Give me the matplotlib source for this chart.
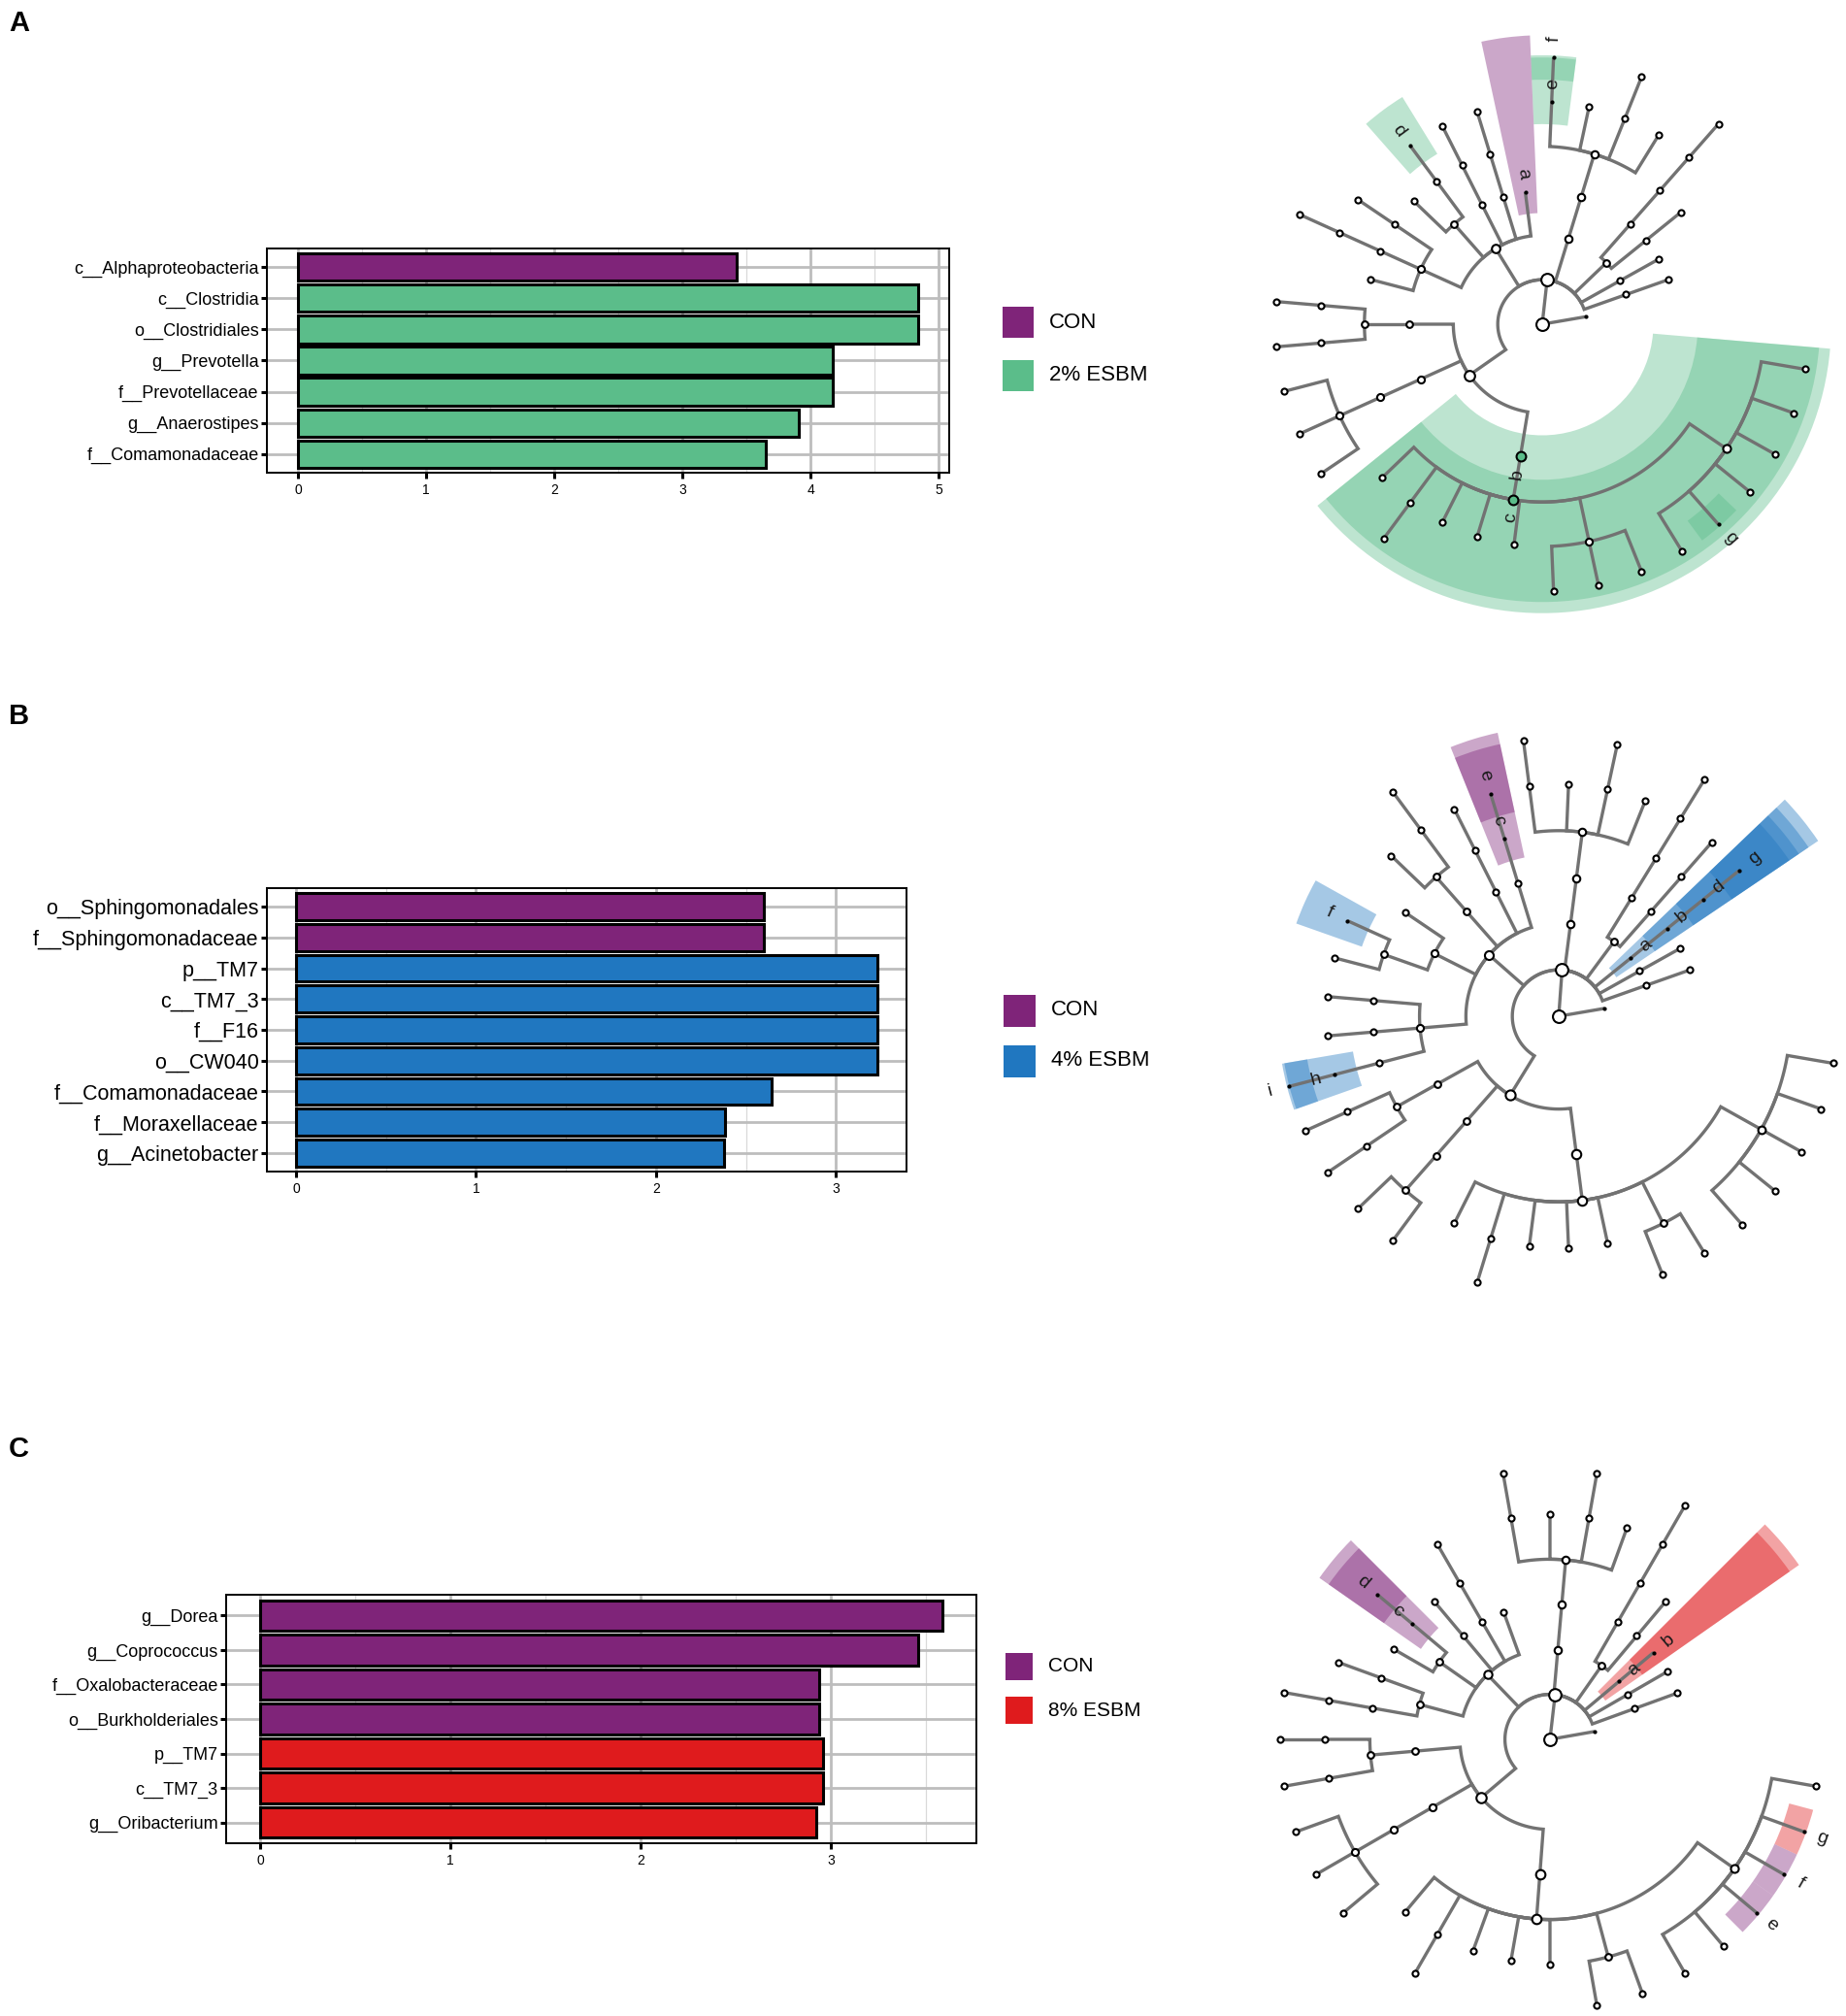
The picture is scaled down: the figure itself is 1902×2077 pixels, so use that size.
import numpy as np
import matplotlib
matplotlib.use("Agg")
import matplotlib.pyplot as plt
from matplotlib.patches import Wedge, Rectangle

plt.rcParams['font.family'] = ['Liberation Sans', 'DejaVu Sans']

W, H = 1902, 2077

# ---------------- LDA bar charts ----------------
taxa_a = ["c__Alphaproteobacteria", "c__Clostridia", "o__Clostridiales", "g__Prevotella",
          "f__Prevotellaceae", "g__Anaerostipes", "f__Comamonadaceae"]
lda_a = [3.42, 4.84, 4.84, 4.17, 4.17, 3.91, 3.65]
grp_a = [0, 1, 1, 1, 1, 1, 1]

taxa_b = ["o__Sphingomonadales", "f__Sphingomonadaceae", "p__TM7", "c__TM7_3", "f__F16",
          "o__CW040", "f__Comamonadaceae", "f__Moraxellaceae", "g__Acinetobacter"]
lda_b = [2.60, 2.60, 3.23, 3.23, 3.23, 3.23, 2.64, 2.385, 2.38]
grp_b = [0, 0, 1, 1, 1, 1, 1, 1, 1]

taxa_c = ["g__Dorea", "g__Coprococcus", "f__Oxalobacteraceae", "o__Burkholderiales",
          "p__TM7", "c__TM7_3", "g__Oribacterium"]
lda_c = [3.585, 3.46, 2.94, 2.94, 2.96, 2.96, 2.92]
grp_c = [0, 0, 0, 0, 1, 1, 1]

groups_a = ["CON", "2% ESBM"]
groups_b = ["CON", "4% ESBM"]
groups_c = ["CON", "8% ESBM"]

col_con = "#7F2479"
cols_a = [col_con, "#5BBD8A"]
cols_b = [col_con, "#2077C0"]
cols_c = [col_con, "#DF1B1D"]

# ---------------- cladograms ----------------
# taxonomy as newick-like strings: "." = plain node, a letter = highlighted node
tree_a = ("(.,((.),(.),((.),(((.)))),(((.,(.),.,(f)e))),"
          "(a,((.)),((.)),((d),.),((.),((.)),.)),"
          "((((.),(.))),(((.,.,.))),((.,(.),.,.,.,(.,.,.),(.,g,.,.,.,.))c)b)))")
marks_a = ["a", "b", "c", "d", "e", "f", "g"]
mark_grp_a = [0, 1, 1, 1, 1, 1, 1]

tree_b = ("(.,((.),(.),(((g)d)b)a,(((.)),(((.)))),(((.,(.),.,(.)))),"
          "(((e)c),((.)),(((.),.)),(.,(f,.)),((.),(.),((i)h))),"
          "((((.),(.))),(((.,.))),((.,(.),.,.,.,(.,.),(.,.,.,.,.))))))")
marks_b = ["a", "b", "c", "d", "e", "f", "g", "h", "i"]
mark_grp_b = [1, 1, 0, 1, 0, 1, 1, 1, 1]

tree_c = ("(.,((.),(.),(b)a,((.),(((.)))),(((.,(.),.,(.)))),"
          "(.,((.)),(.),((d)c,.),((.),((.)))),"
          "((((.),(.))),(((.,.,.))),((.,(.),.,.,.,(.,.),(.,.,e,f,g,.))))))")
marks_c = ["a", "b", "c", "d", "e", "f", "g"]
mark_grp_c = [1, 1, 0, 0, 0, 0, 1]

fig = plt.figure(figsize=(W / 100, H / 100), dpi=100)


def px_axes(left, top, right, bottom):
    return fig.add_axes([left / W, 1 - bottom / H, (right - left) / W, (bottom - top) / H])


def bar_panel(box, taxa, vals, grp, cols, fs):
    ax = px_axes(*box)
    n = len(taxa)
    y = np.arange(n)[::-1] + 1
    ax.barh(y, vals, height=0.88, color=[cols[g] for g in grp],
            edgecolor="black", linewidth=2.2, zorder=3)
    vmax = max(vals)
    ax.set_xlim(-0.05 * vmax, 1.05 * vmax)
    ax.set_ylim(0.4, n + 0.6)
    ax.set_yticks(y)
    ax.set_yticklabels(taxa, fontsize=fs)
    ax.set_xticks(np.arange(0, int(1.05 * vmax) + 1))
    ax.set_xticks(np.arange(0.5, 1.05 * vmax, 1.0), minor=True)
    ax.grid(which="major", color="#BDBDBD", lw=2.0, zorder=0)
    ax.grid(which="minor", axis="x", color="#D9D9D9", lw=0.9, zorder=0)
    ax.set_axisbelow(True)
    ax.tick_params(which="minor", length=0)
    ax.tick_params(axis="y", which="major", length=4, width=2.2, pad=2)
    ax.tick_params(axis="x", which="major", length=4, width=2.2, labelsize=10, pad=4)
    for sp in ax.spines.values():
        sp.set_linewidth(1.4)
    return ax


def legend(x, ys, size, labels, cols, fs):
    for yy, lab, c in zip(ys, labels, cols):
        fig.add_artist(Rectangle((x / W, 1 - (yy + size / 2) / H), size / W, size / H,
                                 transform=fig.transFigure, facecolor=c, edgecolor="none"))
        fig.text((x + size + 16) / W, 1 - yy / H, lab, fontsize=fs, va="center", ha="left")


def parse_tree(s):
    pos = 0

    def node():
        nonlocal pos
        kids = []
        if s[pos] == "(":
            pos += 1
            kids.append(node())
            while s[pos] == ",":
                pos += 1
                kids.append(node())
            pos += 1
        lab = ""
        while pos < len(s) and s[pos] not in "(),":
            lab += s[pos]
            pos += 1
        return {"kids": kids, "lab": lab.strip(".")}
    return node()


def cladogram(cx, cy, sp, tree_str, marks, mark_grp, cols):
    R = 7.0
    ax = fig.add_axes([(cx - R * sp) / W, 1 - (cy + R * sp) / H, 2 * R * sp / W, 2 * R * sp / H])
    ax.set_xlim(-R, R)
    ax.set_ylim(-R, R)
    ax.axis("off")

    root = parse_tree(tree_str)
    nodes, leaves = [], []

    def walk(n, d):
        n["d"] = d
        nodes.append(n)
        if not n["kids"]:
            leaves.append(n)
        for k in n["kids"]:
            walk(k, d + 1)
    walk(root, 0)

    step = 360.0 / (len(leaves) + 1)
    for i, lf in enumerate(leaves):
        lf["ang"] = (i + 1) * step

    def place(n):
        if n["kids"]:
            for k in n["kids"]:
                place(k)
            n["ang"] = np.mean([k["ang"] for k in n["kids"]])
            n["lo"] = min(k["lo"] for k in n["kids"])
            n["hi"] = max(k["hi"] for k in n["kids"])
            n["n"] = sum(k["n"] for k in n["kids"])
        else:
            n["lo"] = n["hi"] = n["ang"]
            n["n"] = 1
    place(root)

    colour_of = {m: cols[g] for m, g in zip(marks, mark_grp)}

    # highlighted clades
    for n in nodes:
        if n["lab"] in colour_of:
            d = n["d"]
            r_out = max(6.0 + 0.25 * (5 - d), d + 0.05)
            ax.add_patch(Wedge((0, 0), r_out, n["lo"] - step / 2, n["hi"] + step / 2,
                               width=r_out - (d - 0.5), facecolor=colour_of[n["lab"]],
                               alpha=0.4, lw=0, zorder=1))

    # branches
    for n in nodes:
        for k in n["kids"]:
            r0, r1 = n["d"], k["d"]
            t = np.radians(np.linspace(n["ang"], k["ang"], 60))
            xs = list(r0 * np.cos(t)) + [r1 * np.cos(t[-1])]
            ys = list(r0 * np.sin(t)) + [r1 * np.sin(t[-1])]
            ax.plot(xs, ys, color="#727272", lw=2.4, solid_capstyle="butt",
                    solid_joinstyle="miter", zorder=2)

    # node markers and letters
    for n in nodes:
        t = np.radians(n["ang"]) if n["d"] > 0 else 0.0
        x, y = n["d"] * np.cos(t), n["d"] * np.sin(t)
        lab = n["lab"]
        tiny = (n["d"] == 1 and not n["kids"]) or (lab in colour_of and n["n"] == 1)
        if tiny:
            ax.scatter([x], [y], s=(4.2 / 1.389) ** 2, color="black", lw=0, zorder=3)
        else:
            diam = 4.8 + 1.35 * np.sqrt(n["n"])
            ax.scatter([x], [y], s=(diam / 1.389) ** 2, facecolor=colour_of.get(lab, "white"),
                       edgecolor="black", linewidths=1.5, zorder=3)
        if lab in colour_of:
            r = n["d"] + 0.42
            a = n["ang"] % 360
            rot = a if (a <= 90 or a >= 270) else a - 180
            ax.text(r * np.cos(t), r * np.sin(t), lab, rotation=rot, rotation_mode="anchor",
                    ha="center", va="center", fontsize=14, color="#1a1a1a", zorder=4)
    return ax


# panel A
bar_panel((275, 256, 978, 487), taxa_a, lda_a, grp_a, cols_a, 13)
legend(1033, [332, 387], 32, groups_a, cols_a, 16)
cladogram(1589, 334, 45.8, tree_a, marks_a, mark_grp_a, cols_a)

# panel B
bar_panel((275, 915, 934, 1207), taxa_b, lda_b, grp_b, cols_b, 15.5)
legend(1034, [1041, 1093], 33, groups_b, cols_b, 16)
cladogram(1606, 1047, 47.8, tree_b, marks_b, mark_grp_b, cols_b)

# panel C
bar_panel((233, 1643, 1006, 1899), taxa_c, lda_c, grp_c, cols_c, 13)
legend(1036, [1717, 1762], 28, groups_c, cols_c, 15)
cladogram(1597, 1792, 46.4, tree_c, marks_c, mark_grp_c, cols_c)

for lab, yy in zip(["A", "B", "C"], [24, 738, 1493]):
    fig.text(9 / W, 1 - yy / H, lab, fontsize=21, fontweight="bold", va="center", ha="left")

fig.savefig("out.png", dpi=100)
